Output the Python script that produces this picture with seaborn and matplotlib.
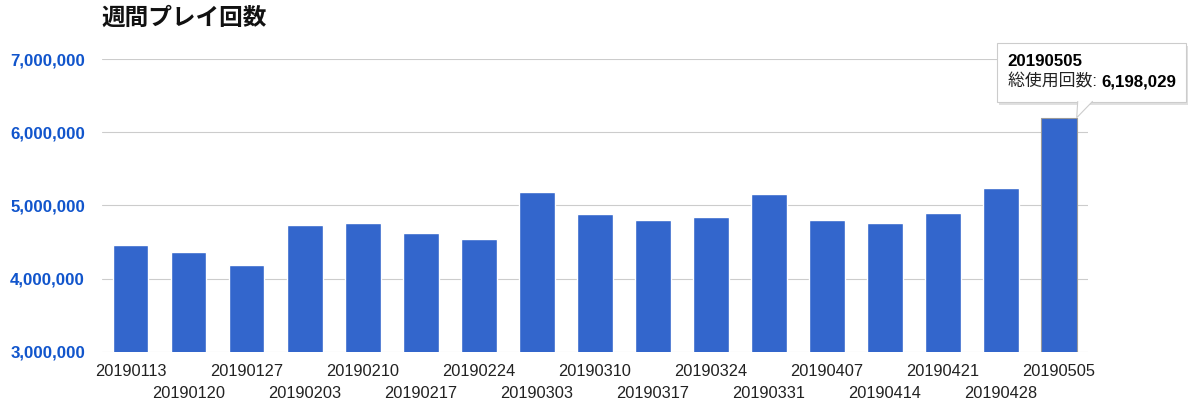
import matplotlib
matplotlib.use("Agg")
import matplotlib.pyplot as plt
import matplotlib.patches as mpatches
import matplotlib.transforms as mtransforms
import seaborn as sns
from matplotlib.ticker import FuncFormatter

# weekly play counts
weeks = ['20190113', '20190120', '20190127', '20190203', '20190210', '20190217',
         '20190224', '20190303', '20190310', '20190317', '20190324', '20190331',
         '20190407', '20190414', '20190421', '20190428', '20190505']
plays = [4456000, 4362000, 4179000, 4738000, 4752000, 4619000,
         4537000, 5186000, 4876000, 4797000, 4842000, 5156000,
         4800000, 4765000, 4896000, 5231000, 6198029]
y_ticks = [3000000, 4000000, 5000000, 6000000, 7000000]

title = '週間プレイ回数'
tip_label = '総使用回数: '

BAR = '#3366CC'

sns.set_style('white')
plt.rcParams['font.family'] = ['Liberation Sans', 'Noto Sans CJK JP', 'DejaVu Sans']

fig = plt.figure(figsize=(12, 4.07), dpi=100)
ax = fig.add_axes([0.0848, 0.1359, 0.8219, 0.7191])

sns.barplot(x=weeks, y=plays, color=BAR, saturation=1, width=0.61, ax=ax, zorder=3)
# hovered bar gets a thin grey outline like in the original
ax.patches[-1].set_edgecolor('#9a9a9a')
ax.patches[-1].set_linewidth(0.8)

ax.set_xlim(-0.5, len(weeks) - 0.5)
ax.set_ylim(y_ticks[0], y_ticks[-1])
ax.set_yticks(y_ticks)
ax.yaxis.set_major_formatter(FuncFormatter(lambda v, p: f'{int(v):,}'))
ax.grid(axis='y', color='#cccccc', linewidth=0.8, zorder=0)
ax.grid(axis='x', visible=False)
for s in ax.spines.values():
    s.set_visible(False)
ax.set_xlabel('')
ax.set_ylabel('')

# staggered category labels (two rows)
ax.set_xticks(range(len(weeks)))
ax.set_xticklabels(weeks, fontsize=11.8, color='#222222')
ax.tick_params(axis='x', length=0, pad=9)
ax.tick_params(axis='y', length=0, pad=12, labelsize=12.2, labelcolor='#1155CC')
for t in ax.get_yticklabels():
    t.set_fontweight('bold')
row_shift = mtransforms.ScaledTranslation(0, -22 / 100, fig.dpi_scale_trans)
for i, t in enumerate(ax.get_xticklabels()):
    if i % 2 == 1:
        t.set_transform(t.get_transform() + row_shift)

fig.text(0.0848, 1 - 18 / 407, title, fontsize=17, fontweight='bold',
         family=['Noto Sans CJK JP', 'DejaVu Sans'], va='center', ha='left', color='#111111')

# tooltip on the last bar
fig.canvas.draw()
renderer = fig.canvas.get_renderer()
last = len(weeks) - 1
tx, ty = ax.transData.transform((last + 0.305, plays[last]))
left, right, top, bottom = tx - 80, tx + 109, ty + 75, ty + 16

shadow = mpatches.Rectangle((left + 2, bottom - 3), right - left, top - bottom,
                            transform=None, facecolor='#000000', alpha=0.12,
                            edgecolor='none', zorder=8)
fig.patches.append(shadow)
box = mpatches.Rectangle((left, bottom), right - left, top - bottom, transform=None,
                         facecolor='white', edgecolor='#cccccc', linewidth=0.8, zorder=9)
fig.patches.append(box)
pointer = mpatches.Polygon([(tx + 1, bottom + 0.5), (tx, ty), (tx + 16, bottom + 0.5)],
                           closed=False, transform=None, facecolor='white',
                           edgecolor='#cccccc', linewidth=0.8, zorder=10)
fig.patches.append(pointer)

fig.text(left + 11, ty + 56, weeks[last], transform=None, fontsize=12.2,
         fontweight='bold', color='#000000', va='center', ha='left', zorder=11)
lab = fig.text(left + 11, ty + 36, tip_label, transform=None, fontsize=12.2,
               color='#222222', va='center', ha='left', zorder=11)
bb = lab.get_window_extent(renderer)
fig.text(bb.x1, ty + 36, f'{plays[last]:,}', transform=None, fontsize=12.2,
         fontweight='bold', color='#000000', va='center', ha='left', zorder=11)

fig.savefig('out.png', dpi=100)
